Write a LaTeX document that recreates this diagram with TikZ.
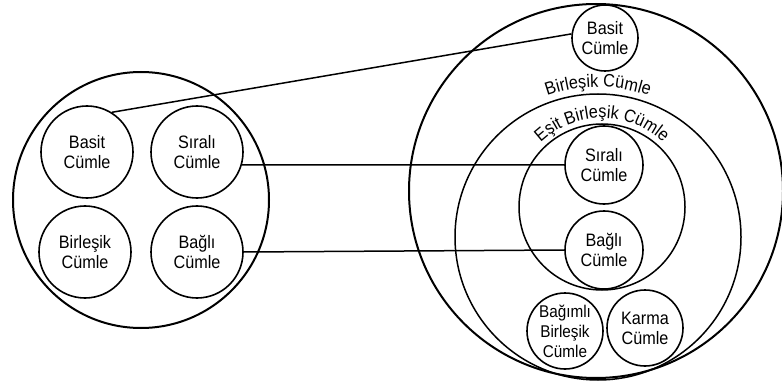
\documentclass[tikz,border=0pt]{standalone}
\usepackage{fontspec}
\setmainfont{Liberation Sans}[FakeStretch=0.9]
\usetikzlibrary{decorations.text}
\begin{document}
\begin{tikzpicture}[x=1pt,y=-1pt,
  bigcirc/.style={circle,draw,line width=2pt,inner sep=0pt},
  ringcirc/.style={circle,draw,line width=1.5pt,inner sep=0pt},
  smallcirc/.style={circle,draw,line width=1.6pt,inner sep=0pt,align=center,font=\fontsize{18}{20}\selectfont},
  link/.style={line width=1.5pt},
  arctext/.style={decorate,decoration={text along path,text align=center,text={#1}}}
]
\useasboundingbox (0,0) rectangle (782,385);
% left group
\node[bigcirc,minimum size=256pt] (L) at (141,200) {};
\node[smallcirc,minimum size=92pt] (lbasit) at (87,152) {Basit\\Cümle};
\node[smallcirc,minimum size=92pt] (lsirali) at (197,152) {Sıralı\\Cümle};
\node[smallcirc,minimum size=92pt] (lbirlesik) at (85,252) {Birleşik\\Cümle};
\node[smallcirc,minimum size=92pt] (lbagli) at (197,252) {Bağlı\\Cümle};
% right group
\node[bigcirc,minimum size=374pt] (R) at (596,191) {};
\node[ringcirc,minimum size=286pt] (birl) at (598,237) {};
\node[ringcirc,minimum size=166pt] (esit) at (602,207) {};
\node[smallcirc,minimum size=66pt] (rbasit) at (605,38) {Basit\\Cümle};
\node[smallcirc,minimum size=78pt] (rsirali) at (604,165) {Sıralı\\Cümle};
\node[smallcirc,minimum size=78pt] (rbagli) at (604,250) {Bağlı\\Cümle};
\node[smallcirc,minimum size=76pt,font=\fontsize{17}{20}\selectfont] (rbagimli) at (565,331) {Bağımlı\\Birleşik\\Cümle};
\node[smallcirc,minimum size=76pt] (rkarma) at (645,328) {Karma\\Cümle};
% arc labels
\path[arctext={|\fontsize{18}{20}\selectfont|Birleşik Cümle}] ([shift={(150:150pt)}]birl.center) arc[start angle=150,end angle=30,radius=150pt];
\path[arctext={|\fontsize{18}{20}\selectfont|Eşit Birleşik Cümle}] ([shift={(170:89pt)}]esit.center) arc[start angle=170,end angle=10,radius=89pt];
% connectors
\draw[link] (lbasit.58) -- (rbasit.173);
\draw[link] (lsirali.-16) -- (rsirali.west);
\draw[link] (lbagli.east) -- (rbagli.west);
\end{tikzpicture}
\end{document}
